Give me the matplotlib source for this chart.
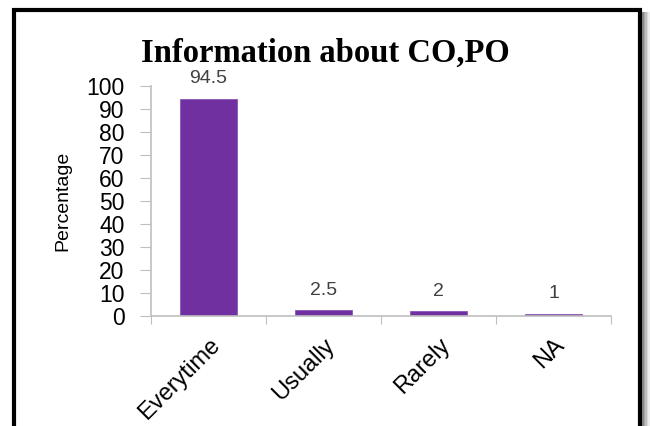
import matplotlib
matplotlib.use("Agg")
import matplotlib.pyplot as plt
from matplotlib.patches import Rectangle
import numpy as np

categories = ["Everytime", "Usually", "Rarely", "NA"]
percent = [94.5, 2.5, 2, 1]
value_labels = ["94.5", "2.5", "2", "1"]
y_ticks = [0, 10, 20, 30, 40, 50, 60, 70, 80, 90, 100]

W, H = 650, 426
plt.rcParams["font.family"] = ["Liberation Sans", "DejaVu Sans"]

fig = plt.figure(figsize=(W / 100, H / 100), dpi=100)
ax = fig.add_axes([151 / W, 1 - 316 / H, (611 - 151) / W, (316 - 86) / H])

x = np.arange(len(categories))
ax.bar(x, percent, width=0.5, color="#7030A0", edgecolor="#8a55b5", linewidth=0.6)
ax.set_xlim(-0.5, len(categories) - 0.5)
ax.set_ylim(0, 100)
ax.set_yticks(y_ticks)
ax.tick_params(axis="y", labelsize=16.5, length=8, color="#BFBFBF", pad=11)

# category ticks sit on the boundaries, labels at the centres
ax.set_xticks(np.arange(len(categories) + 1) - 0.5)
ax.set_xticklabels([])
ax.tick_params(axis="x", which="major", length=6, color="#BFBFBF")
ax.set_xticks(x, minor=True)
ax.set_xticklabels(categories, minor=True, rotation=45, ha="right",
                   rotation_mode="anchor", fontsize=17)
ax.tick_params(axis="x", which="minor", length=0, pad=13)

for s in ["top", "right"]:
    ax.spines[s].set_visible(False)
for s in ["left", "bottom"]:
    ax.spines[s].set_color("#BFBFBF")
    ax.spines[s].set_linewidth(1.2)

for xi, v, lab in zip(x, percent, value_labels):
    ax.annotate(lab, (xi, v), xytext=(0, 14.5), textcoords="offset points",
                ha="center", va="center", fontsize=14, color="#404040")

ax.set_ylabel("Percentage", fontsize=14, labelpad=11)

fig.text(0.5, 1 - 53 / H, "Information about CO,PO", ha="center", va="center",
         fontsize=23.5, fontweight="bold", family="Liberation Serif")

# frame with a soft shadow on the right
for i, g in enumerate([0.55, 0.65, 0.75, 0.85, 0.93]):
    fig.patches.append(Rectangle(((642 + i * 1.6) / W, -0.1), 1.6 / W, 1 - 12 / H + 0.1,
                                 transform=fig.transFigure, color=str(g), lw=0))
fig.patches.append(Rectangle((14 / W, -0.1), (640 - 14) / W, 1 - 10 / H + 0.1,
                             transform=fig.transFigure, fill=False,
                             edgecolor="black", linewidth=3))

fig.savefig("out.png", dpi=100)
